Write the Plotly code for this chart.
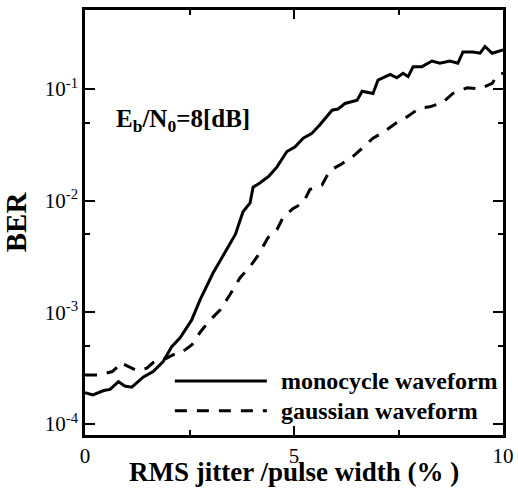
import plotly.graph_objects as go

# RMS jitter / pulse width (%) and log10(BER)
mono_x = [0.0, 0.19, 0.45, 0.6, 0.8, 0.95, 1.12, 1.39, 1.63, 1.87, 2.07, 2.27, 2.55, 2.75,
          3.06, 3.39, 3.6, 3.78, 3.95, 4.02, 4.19, 4.4, 4.59, 4.83, 5.02, 5.22, 5.42, 5.62,
          5.91, 6.05, 6.22, 6.51, 6.63, 6.89, 7.01, 7.30, 7.46, 7.61, 7.73, 7.85, 8.06,
          8.30, 8.49, 8.73, 8.92, 9.04, 9.28, 9.45, 9.57, 9.74, 10.0]
mono_logber = [-3.72, -3.74, -3.70, -3.69, -3.62, -3.66, -3.67, -3.58, -3.53, -3.44, -3.31,
               -3.23, -3.07, -2.89, -2.65, -2.44, -2.30, -2.10, -2.02, -1.88, -1.84, -1.78,
               -1.70, -1.56, -1.52, -1.44, -1.40, -1.32, -1.19, -1.18, -1.13, -1.10, -1.02,
               -1.04, -0.92, -0.87, -0.90, -0.86, -0.89, -0.80, -0.80, -0.75, -0.77, -0.75,
               -0.77, -0.67, -0.67, -0.68, -0.62, -0.68, -0.65]

gauss_x = [0.0, 0.36, 0.65, 0.77, 0.84, 1.08, 1.24, 1.48, 1.63, 1.79, 1.96, 2.11, 2.27,
           2.56, 2.75, 2.99, 3.23, 3.47, 3.71, 3.95, 4.14, 4.38, 4.59, 4.74, 4.98, 5.22,
           5.38, 5.67, 5.86, 6.10, 6.39, 6.63, 6.89, 7.13, 7.46, 7.70, 8.01, 8.25, 8.56,
           8.80, 9.14, 9.45, 9.74, 9.88, 10.0]
gauss_logber = [-3.56, -3.56, -3.53, -3.49, -3.45, -3.49, -3.52, -3.50, -3.45, -3.43, -3.41,
                -3.38, -3.37, -3.29, -3.18, -3.07, -2.98, -2.84, -2.69, -2.59, -2.49, -2.33,
                -2.26, -2.15, -2.07, -2.02, -1.90, -1.86, -1.73, -1.68, -1.61, -1.53, -1.44,
                -1.39, -1.30, -1.25, -1.17, -1.16, -1.12, -1.04, -0.99, -1.00, -0.95, -0.87,
                -0.86]

mono_ber = [10 ** v for v in mono_logber]
gauss_ber = [10 ** v for v in gauss_logber]

x_ticks = [0, 5, 10]
x_minor = [2.5, 7.5]
y_ticks = [1e-4, 1e-3, 1e-2, 1e-1]
y_ticktext = ["10<sup>-4</sup>", "10<sup>-3</sup>", "10<sup>-2</sup>", "10<sup>-1</sup>"]
y_minor = [5e-4, 5e-3, 5e-2]
x_title = "RMS jitter /pulse width (% )"

serif = "Liberation Serif, Times New Roman, serif"

fig = go.Figure()
fig.add_trace(go.Scatter(x=mono_x, y=mono_ber, mode="lines", name="monocycle waveform",
                         line=dict(color="black", width=3), showlegend=False))
fig.add_trace(go.Scatter(x=gauss_x, y=gauss_ber, mode="lines", name="gaussian waveform",
                         line=dict(color="black", width=3, dash="12px,10px"), showlegend=False))

# legend drawn manually (long line samples)
fig.add_shape(type="line", xref="paper", yref="paper", x0=0.215, x1=0.435, y0=0.127, y1=0.127,
              line=dict(color="black", width=3))
fig.add_shape(type="line", xref="paper", yref="paper", x0=0.215, x1=0.435, y0=0.057, y1=0.057,
              line=dict(color="black", width=3, dash="12px,10px"))
fig.add_annotation(xref="paper", yref="paper", x=0.463, y=0.127, xanchor="left", yanchor="middle",
                   text="monocycle waveform", showarrow=False,
                   font=dict(family=serif, size=24, color="black", weight="bold"))
fig.add_annotation(xref="paper", yref="paper", x=0.463, y=0.057, xanchor="left", yanchor="middle",
                   text="gaussian waveform", showarrow=False,
                   font=dict(family=serif, size=24, color="black", weight="bold"))
fig.add_annotation(xref="paper", yref="paper", x=0.07, y=0.74, xanchor="left", yanchor="middle",
                   text="E<sub>b</sub>/N<sub>0</sub>=8[dB]", showarrow=False,
                   font=dict(family=serif, size=25, color="black", weight="bold"))
# x-axis title as annotation for precise placement
fig.add_annotation(xref="paper", yref="paper", x=0.5, y=-0.127, xanchor="center", yanchor="bottom",
                   text=x_title, showarrow=False,
                   font=dict(family=serif, size=27, color="black", weight="bold"))

fig.update_layout(
    width=518, height=490,
    margin=dict(l=85, r=15, t=10, b=55, autoexpand=False),
    paper_bgcolor="white", plot_bgcolor="white",
    font=dict(family=serif, color="black"),
    xaxis=dict(range=[0, 10], tickmode="array", tickvals=x_ticks, automargin=False,
               ticks="inside", ticklen=9, tickwidth=2, tickcolor="black",
               showline=True, linecolor="black", linewidth=2.5, mirror="ticks",
               showgrid=False, zeroline=False,
               tickfont=dict(family=serif, size=21, color="black"),
               minor=dict(tickmode="array", tickvals=x_minor, ticks="inside", ticklen=5,
                          tickwidth=2, tickcolor="black", showgrid=False)),
    yaxis=dict(type="log", range=[-4.098, -0.293], tickmode="array", automargin=False,
               tickvals=y_ticks, ticktext=y_ticktext,
               ticks="inside", ticklen=10, tickwidth=2, tickcolor="black",
               showline=True, linecolor="black", linewidth=2.5, mirror="ticks",
               showgrid=False, zeroline=False,
               tickfont=dict(family=serif, size=21, color="black"),
               minor=dict(tickmode="array", tickvals=y_minor, ticks="inside", ticklen=5,
                          tickwidth=2, tickcolor="black", showgrid=False),
               title=dict(text="BER", standoff=10,
                          font=dict(family=serif, size=29, color="black", weight="bold"))),
)

fig.write_html("out.html", config={"displayModeBar": False},
               post_script="document.body.style.margin='0';document.body.style.overflow='hidden';")
